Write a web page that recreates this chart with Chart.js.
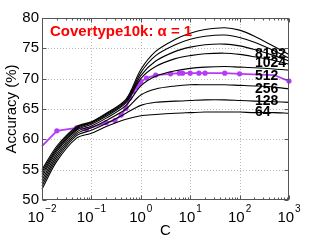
<!DOCTYPE html>
<html>
<head>
<meta charset="utf-8">
<script src="https://cdn.jsdelivr.net/npm/chart.js@4.4.0/dist/chart.umd.min.js"></script>
<style>
  html, body { margin: 0; padding: 0; background: #fff; }
</style>
</head>
<body>
<canvas id="myChart" width="319" height="240"></canvas>
<script>
// black curves, top to bottom
const cValues = [0.01, 0.02, 0.05, 0.1, 0.2, 0.5, 1, 2, 5, 10, 20, 50, 100, 200, 500, 1000]
const acc1 = [55.0, 58.9, 62.1, 62.9, 64.3, 66.6, 71.5, 74.5, 76.5, 77.5, 78.1, 78.4, 78.0, 77.0, 75.3, 74.0]
const acc2 = [54.6, 58.6, 61.9, 62.8, 64.2, 66.4, 71.0, 73.8, 75.6, 76.5, 77.0, 77.2, 76.8, 76.0, 74.6, 73.4]
const acc3 = [54.2, 58.3, 61.7, 62.7, 64.0, 66.2, 70.5, 72.9, 74.5, 75.2, 75.6, 75.7, 75.4, 74.8, 73.8, 72.9]
const acc4 = [53.8, 58.0, 61.5, 62.5, 63.8, 66.0, 70.0, 72.0, 73.3, 73.8, 74.1, 74.2, 74.0, 73.6, 73.0, 72.4]
const acc5 = [53.3, 57.6, 61.2, 62.2, 63.5, 65.6, 68.8, 70.4, 71.3, 71.7, 71.9, 72.0, 71.9, 71.8, 71.6, 71.4]
const acc6 = [52.8, 57.2, 60.9, 61.9, 63.1, 65.0, 67.3, 68.3, 68.8, 69.0, 69.0, 69.0, 68.9, 68.8, 68.6, 68.3]
const acc7 = [52.3, 56.8, 60.6, 61.5, 62.6, 64.3, 65.6, 66.1, 66.3, 66.4, 66.5, 66.5, 66.4, 66.3, 66.2, 66.1]
const acc8 = [51.8, 56.4, 60.2, 61.0, 62.1, 63.3, 63.9, 64.1, 64.3, 64.4, 64.5, 64.5, 64.5, 64.4, 64.4, 64.3]

// magenta curve
const magentaC = [0.01, 0.02, 0.05, 0.08, 0.2, 0.3, 0.4, 0.5, 0.6, 0.7, 0.8, 0.9, 1, 1.3, 2, 4, 6, 7, 10, 15, 20, 50, 100, 500, 1000]
const magentaAcc = [58.9, 61.4, 61.9, 61.7, 62.75, 63.1, 64.0, 65.1, 66.8, 67.9, 68.6, 69.1, 69.5, 70.1, 70.6, 70.8, 70.9, 70.9, 70.9, 70.9, 70.9, 70.9, 70.8, 70.6, 69.6]

const kLabels = ['8192', '1024', '512', '256', '128', '64']
const kLabelAcc = [74.0, 72.5, 70.4, 68.25, 66.3, 64.5]
const kLabelC = 204

const yTicks = [50, 55, 60, 65, 70, 75, 80]
const xDecades = [-2, -1, 0, 1, 2, 3]

const FONT = 'Liberation Sans, Arial, Helvetica, sans-serif'
const MAGENTA = '#b43cf5'

const toPoints = (xs, ys) => xs.map((c, i) => ({ x: c, y: ys[i] }))

const blackSets = [acc1, acc2, acc3, acc4, acc5, acc6, acc7, acc8].map(arr => ({
  data: toPoints(cValues, arr),
  borderColor: '#000',
  borderWidth: 1.1,
  pointRadius: 0,
  tension: 0.3,
  clip: false
}))

const frame = {
  id: 'frame',
  beforeDatasetsDraw(chart) {
    const { ctx, chartArea: a, scales: { x, y } } = chart
    ctx.save()
    ctx.strokeStyle = '#bcbcbc'
    ctx.lineWidth = 1
    ctx.setLineDash([1, 2])
    xDecades.slice(1, -1).forEach(p => {
      const px = Math.round(x.getPixelForValue(Math.pow(10, p))) + 0.5
      ctx.beginPath(); ctx.moveTo(px, a.top); ctx.lineTo(px, a.bottom); ctx.stroke()
    })
    yTicks.slice(1, -1).forEach(v => {
      const py = Math.round(y.getPixelForValue(v)) + 0.5
      ctx.beginPath(); ctx.moveTo(a.left, py); ctx.lineTo(a.right, py); ctx.stroke()
    })
    ctx.restore()
  },
  afterDatasetsDraw(chart) {
    const { ctx, chartArea: a, scales: { x, y } } = chart
    ctx.save()
    // box
    ctx.strokeStyle = '#555'
    ctx.lineWidth = 1
    const L = Math.round(a.left) + 0.5, R = Math.round(a.right) - 0.5
    const T = Math.round(a.top) + 0.5, B = Math.round(a.bottom) - 0.5
    ctx.strokeRect(L, T, R - L, B - T)
    // x ticks, inward, top and bottom
    ctx.beginPath()
    for (let p = -2; p <= 3; p++) {
      for (let m = 1; m <= 9; m++) {
        const v = m * Math.pow(10, p)
        if (v > 1000) break
        const px = Math.round(x.getPixelForValue(v)) + 0.5
        const len = m === 1 ? 4 : 2
        ctx.moveTo(px, B); ctx.lineTo(px, B - len)
        ctx.moveTo(px, T); ctx.lineTo(px, T + len)
      }
    }
    yTicks.forEach(v => {
      const py = Math.round(y.getPixelForValue(v)) + 0.5
      ctx.moveTo(L, py); ctx.lineTo(L + 4, py)
      ctx.moveTo(R, py); ctx.lineTo(R - 4, py)
    })
    ctx.stroke()

    // x tick labels 10^p
    ctx.fillStyle = '#000'
    ctx.textBaseline = 'alphabetic'
    ctx.textAlign = 'left'
    xDecades.forEach(p => {
      const px = x.getPixelForValue(Math.pow(10, p))
      const exp = p < 0 ? '\u2212' + (-p) : String(p)
      ctx.font = '15px ' + FONT
      const wb = ctx.measureText('10').width
      ctx.font = '10px ' + FONT
      const we = ctx.measureText(exp).width
      const x0 = px - (wb + we + 1) / 2
      ctx.font = '15px ' + FONT
      ctx.fillText('10', x0, 222)
      ctx.font = '10px ' + FONT
      ctx.fillText(exp, x0 + wb + 1, 212)
    })

    // curve labels
    ctx.font = 'bold 14px ' + FONT
    ctx.textBaseline = 'middle'
    kLabels.forEach((t, i) => {
      ctx.fillText(t, x.getPixelForValue(kLabelC), y.getPixelForValue(kLabelAcc[i]))
    })

    // title inside the axes
    ctx.fillStyle = '#ff0000'
    ctx.font = 'bold 15px ' + FONT
    ctx.textBaseline = 'alphabetic'
    ctx.fillText('Covertype10k: \u03b1 = 1', a.left + 8, a.top + 17.5)
    ctx.restore()
  }
}

new Chart(document.getElementById('myChart'), {
  type: 'line',
  data: {
    datasets: [
      ...blackSets,
      {
        data: toPoints(magentaC, magentaAcc),
        borderColor: MAGENTA,
        backgroundColor: MAGENTA,
        borderWidth: 1.8,
        pointRadius: ctx => (ctx.raw && (ctx.raw.x === 0.01 || ctx.raw.x === 500)) ? 0 : 2.6,
        pointBorderWidth: 0,
        tension: 0,
        clip: false
      }
    ]
  },
  plugins: [frame],
  options: {
    responsive: false,
    animation: false,
    devicePixelRatio: 1,
    layout: { padding: { top: 18, right: 30, left: 0, bottom: 0 } },
    plugins: { legend: { display: false }, tooltip: { enabled: false } },
    scales: {
      x: {
        type: 'logarithmic',
        min: 0.01,
        max: 1000,
        grid: { display: false, drawTicks: false },
        border: { display: false },
        ticks: { display: false },
        title: { display: true, text: 'C', color: '#000', font: { family: FONT, size: 15 }, padding: { top: 0, bottom: 0 } },
        afterFit: s => { s.height = 40 }
      },
      y: {
        min: 50,
        max: 80,
        grid: { display: false, drawTicks: false },
        border: { display: false },
        ticks: { stepSize: 5, color: '#000', padding: 3, font: { family: FONT, size: 15 } },
        title: { display: true, text: 'Accuracy (%)', color: '#000', font: { family: FONT, size: 15 }, padding: { top: 3, bottom: 0 } },
        afterFit: s => { s.width = 42 }
      }
    }
  }
})
</script>
</body>
</html>
